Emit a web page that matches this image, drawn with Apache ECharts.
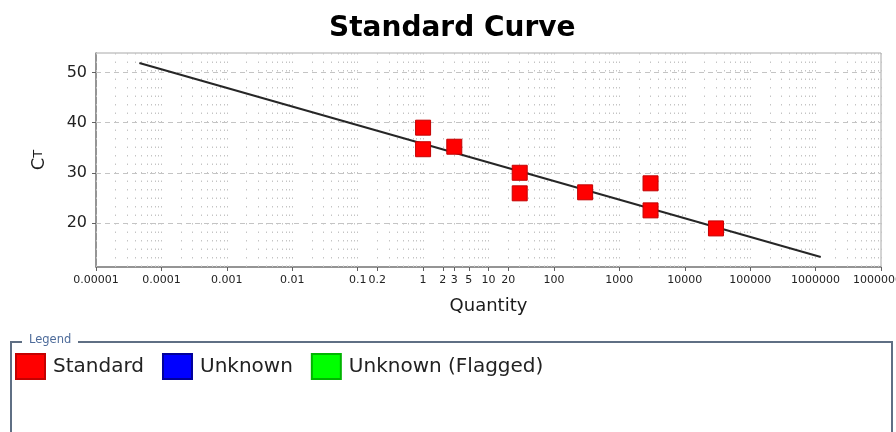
<!DOCTYPE html>
<html>
<head>
<meta charset="utf-8">
<script src="https://cdn.jsdelivr.net/npm/echarts@6/dist/echarts.min.js"></script>
<style>
html,body{margin:0;padding:0;background:#ffffff;}
#chart{width:896px;height:432px;}
</style>
</head>
<body>
<div id="chart"></div>
<script>
// ---- data ----
var standardQuantity = [1, 1, 3, 30, 30, 300, 3000, 3000, 30000];
var standardCt       = [39.0, 34.7, 35.2, 30.0, 25.9, 26.1, 27.9, 22.5, 18.9];
var fitQuantity = [0.000046, 1200000];
var fitCt       = [51.9, 13.2];
var xTickValues = [0.00001, 0.0001, 0.001, 0.01, 0.1, 0.2, 1, 2, 3, 5, 10, 20, 100, 1000, 10000, 100000, 1000000, 10000000];
var xTickLabels = ["0.00001", "0.0001", "0.001", "0.01", "0.1", "0.2", "1", "2", "3", "5", "10", "20", "100", "1000", "10000", "100000", "1000000", "10000000"];
var yTickValues = [20, 30, 40, 50];
var legendNames = ["Standard", "Unknown", "Unknown (Flagged)"];
var legendColors = ["#ff0000", "#0000ff", "#00ff00"];

// grid line positions (log decades with 1..9 subdivisions)
var xGridValues = [];
for (var k = -5; k <= 6; k++) {
  for (var m = 1; m <= 9; m++) {
    xGridValues.push(+(m * Math.pow(10, k)).toPrecision(3));
  }
}
xGridValues.push(10000000);

function xLabel(v) {
  for (var i = 0; i < xTickValues.length; i++) {
    if (Math.abs(v - xTickValues[i]) <= xTickValues[i] * 1e-6) return xTickLabels[i];
  }
  return '';
}

var chart = echarts.init(document.getElementById('chart'), null, {renderer: 'canvas'});
var FONT = 'DejaVu Sans';

var option = {
  backgroundColor: '#ffffff',
  animation: false,
  title: {
    text: 'Standard Curve',
    left: 329,
    top: 15,
    padding: 0,
    textStyle: {fontFamily: FONT, fontSize: 28, fontWeight: 'bold', color: '#000000'}
  },
  grid: {
    left: 96, right: 15, top: 53, bottom: 165,
    outerBoundsMode: 'none',
    containLabel: false,
    show: true, borderColor: '#a8a8a8', borderWidth: 1, backgroundColor: 'transparent'
  },
  xAxis: {
    type: 'log',
    logBase: 10,
    min: 0.00001,
    max: 10000000,
    name: 'Quantity',
    nameLocation: 'middle',
    nameGap: 30,
    nameTextStyle: {fontFamily: FONT, fontSize: 18, color: '#1a1a1a'},
    axisLine: {show: true, lineStyle: {color: '#808080', width: 1.5}},
    axisTick: {show: true, length: 4, customValues: xTickValues, lineStyle: {color: '#606060'}},
    axisLabel: {
      customValues: xTickValues,
      fontFamily: FONT, fontSize: 11, color: '#222222', margin: 8,
      formatter: function (v) { return xLabel(v); }
    },
    splitLine: {show: false},
    minorTick: {show: false},
    minorSplitLine: {show: false}
  },
  yAxis: {
    type: 'value',
    min: 11.2,
    max: 53.9,
    name: '{c|C}{t|T}',
    nameLocation: 'middle',
    nameRotate: 90,
    nameGap: 48,
    nameTextStyle: {
      fontFamily: FONT, color: '#1a1a1a',
      rich: {
        c: {fontFamily: FONT, fontSize: 18, color: '#1a1a1a'},
        t: {fontFamily: FONT, fontSize: 13, color: '#1a1a1a'}
      }
    },
    axisLine: {show: true, lineStyle: {color: '#808080', width: 1.5}},
    axisTick: {show: true, length: 4, customValues: yTickValues, lineStyle: {color: '#606060'}},
    axisLabel: {customValues: yTickValues, fontFamily: FONT, fontSize: 16, color: '#222222', margin: 9},
    splitLine: {show: false}
  },
  legend: {
    data: legendNames,
    left: 15,
    top: 353,
    padding: 0,
    orient: 'horizontal',
    icon: 'rect',
    itemWidth: 29,
    itemHeight: 25,
    itemGap: 18,
    selectedMode: false,
    textStyle: {fontFamily: FONT, fontSize: 20, color: '#222222', padding: [0, 0, 0, 3]}
  },
  graphic: [
    {type: 'polyline', silent: true, shape: {points: [[22, 342], [11, 342], [11, 432]]},
     style: {stroke: '#5f6f84', lineWidth: 2, fill: null}},
    {type: 'polyline', silent: true, shape: {points: [[78, 342], [892, 342], [892, 432]]},
     style: {stroke: '#5f6f84', lineWidth: 2, fill: null}},
    {type: 'text', silent: true, left: 29, top: 334,
     style: {text: 'Legend', fontFamily: FONT, fontSize: 11.5, fill: '#4d6b9a'}}
  ],
  series: [
    {
      name: 'gridlines',
      type: 'line',
      data: [],
      silent: true,
      z: 1,
      markLine: {
        silent: true,
        precision: 10,
        symbol: ['none', 'none'],
        label: {show: false},
        emphasis: {disabled: true},
        animation: false,
        data: xGridValues.map(function (v) {
          return {xAxis: v, lineStyle: {color: '#c4c4c4', width: 1, type: [1.5, 7]}};
        }).concat(yTickValues.map(function (v) {
          return {yAxis: v, lineStyle: {color: '#c4c4c4', width: 1, type: [5, 4]}};
        }))
      }
    },
    {
      name: 'fit',
      type: 'line',
      data: fitQuantity.map(function (q, i) { return [q, fitCt[i]]; }),
      showSymbol: false,
      symbol: 'none',
      silent: true,
      zlevel: 1,
      lineStyle: {color: '#262626', width: 2}
    },
    {
      name: legendNames[0],
      type: 'scatter',
      symbol: 'rect',
      symbolSize: 15,
      zlevel: 2,
      itemStyle: {color: legendColors[0], borderColor: '#c40000', borderWidth: 1, opacity: 1},
      data: standardQuantity.map(function (q, i) { return [q, standardCt[i]]; })
    },
    {
      name: legendNames[1],
      type: 'scatter',
      symbol: 'rect',
      symbolSize: 15,
      itemStyle: {color: legendColors[1], borderColor: '#00009a', borderWidth: 1, opacity: 1},
      data: []
    },
    {
      name: legendNames[2],
      type: 'scatter',
      symbol: 'rect',
      symbolSize: 15,
      itemStyle: {color: legendColors[2], borderColor: '#00b400', borderWidth: 1, opacity: 1},
      data: []
    }
  ]
};
chart.setOption(option);
</script>
</body>
</html>
